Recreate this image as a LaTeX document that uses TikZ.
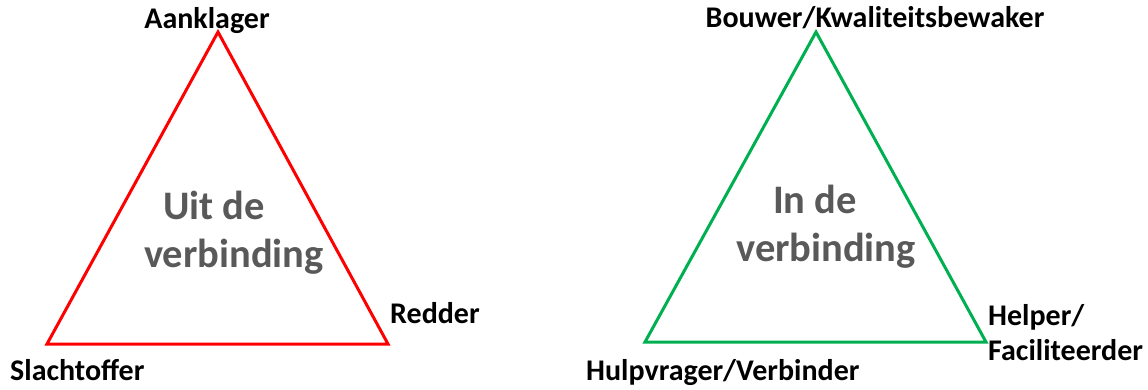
\documentclass[tikz,border=0pt]{standalone}
\usepackage{fontspec}
\setmainfont{Carlito}
\definecolor{tred}{RGB}{255,0,0}
\definecolor{tgreen}{RGB}{0,176,80}
\definecolor{tgray}{RGB}{89,89,89}
\begin{document}
\begin{tikzpicture}[x=1pt,y=-1pt,
  role/.style={font=\fontsize{30}{34}\selectfont\bfseries, text=black, inner sep=0pt},
  center/.style={font=\fontsize{40.5}{47}\selectfont\bfseries, text=tgray, inner sep=0pt, align=center},
  tri/.style={line width=3pt, line join=miter}]
\useasboundingbox (0,0) rectangle (1148,389);
% left triangle
\coordinate (la) at (218,32);
\coordinate (lb) at (47,344);
\coordinate (lc) at (388,344);
\draw[tri, tred] (la) -- (lb) -- (lc) -- cycle;
\node[role, anchor=base] (aank) at (207,28) {Aanklager};
\node[role, anchor=base west] (redd) at (390,323) {Redder};
\node[role, anchor=base west] (slach) at (10,380) {Slachtoffer};
\node[center, anchor=base] (uit) at (214,219) {Uit de};
\node[center, anchor=base] (verb1) at (234,267) {verbinding};
% right triangle
\coordinate (ra) at (816,32);
\coordinate (rb) at (645,342);
\coordinate (rc) at (986,342);
\draw[tri, tgreen] (ra) -- (rb) -- (rc) -- cycle;
\node[role, anchor=base] (bouw) at (875,27) {Bouwer/Kwaliteitsbewaker};
\node[role, anchor=base west] (help) at (988,325) {Helper/};
\node[role, anchor=base west] (fac) at (988,360) {Faciliteerder};
\node[role, anchor=base west] (hulp) at (586,380) {Hulpvrager/Verbinder};
\node[center, anchor=base] (in) at (815,213) {In de};
\node[center, anchor=base] (verb2) at (826,261) {verbinding};
\end{tikzpicture}
\end{document}
